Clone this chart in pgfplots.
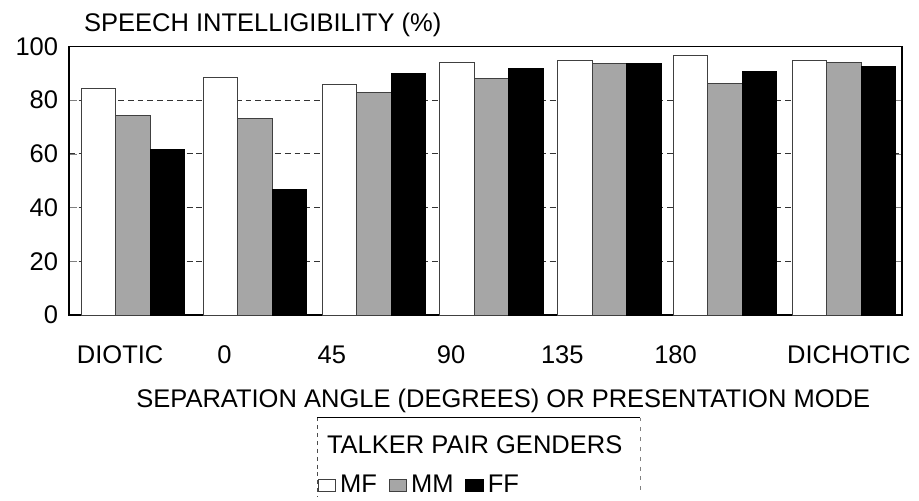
\documentclass[border=0pt]{standalone}
\usepackage{pgfplots}
\pgfplotsset{compat=1.18}
\usepackage{fontspec}
\setmainfont{Liberation Sans}
\begin{document}
\begin{tikzpicture}
\fontsize{13}{15}\selectfont
\begin{axis}[
  at={(0,0)}, anchor=south west,
  scale only axis, width=423bp, height=136.5bp,
  xmin=70, xmax=916, ymin=0, ymax=100,
  ytick={0,20,40,60,80,100},
  xtick={122,228,337,458,571,686,862},
  xticklabels={DIOTIC,0,45,90,135,180,DICHOTIC},
  x tick style={draw=none},
  major tick length=4bp,
  xticklabel style={yshift=-7bp},
  yticklabel style={xshift=-1bp},
  ticklabel style={font=\fontsize{13}{15}\selectfont},
  /pgf/number format/assume math mode=true,
  ymajorgrids, grid style={dash pattern=on 3pt off 2pt, black!80, line width=0.4pt},
  axis line style={line width=0.7pt},
  ybar, bar width=35,
  legend columns=3,
  legend style={draw=none, fill=none, at={(0.298,-0.69)}, anchor=south west,
    font=\fontsize{13}{15}\selectfont, inner sep=0pt,
    /tikz/every even column/.append style={column sep=4bp}},
  legend image code/.code={\draw[#1, line width=0.4pt] (0bp,-3bp) rectangle (9bp,3bp);},
  clip=false,
]
\addplot[bar shift=-35, fill=white, draw=black!75, line width=0.5pt] coordinates {
  (135,84.2) (259,88.4) (380,85.7) (499,94.0) (619,94.9) (736,96.4) (857,94.6)};
\addplot[bar shift=0, fill=black!35, draw=black!75, line width=0.5pt] coordinates {
  (135,74.2) (259,73.0) (380,82.7) (499,88.2) (619,93.6) (736,86.1) (857,94.0)};
\addplot[bar shift=35, fill=black, draw=black, line width=0.5pt] coordinates {
  (135,61.6) (259,46.6) (380,89.7) (499,91.6) (619,93.6) (736,90.6) (857,92.4)};
\legend{MF,MM,FF}
\end{axis}
\node[anchor=base west, inner sep=0pt] at (7.5bp,144bp) {SPEECH INTELLIGIBILITY (\%)};
\node[anchor=base, inner sep=0pt] at (220.5bp,-47bp) {SEPARATION ANGLE (DEGREES) OR PRESENTATION MODE};
\node[anchor=base, inner sep=0pt] at (206bp,-70.5bp) {TALKER PAIR GENDERS};
\draw[line width=0.6pt] (126bp,-52bp) -- (290bp,-52bp);
\draw[dash pattern=on 2pt off 2pt, line width=0.4pt, black!70] (126bp,-52bp) -- (126bp,-92bp);
\draw[dash pattern=on 2pt off 3pt, line width=0.4pt, black!50] (290bp,-52bp) -- (290bp,-90bp);
\path[use as bounding box] (-35bp,-92bp) rectangle (424.5bp,160bp);
\end{tikzpicture}
\end{document}
